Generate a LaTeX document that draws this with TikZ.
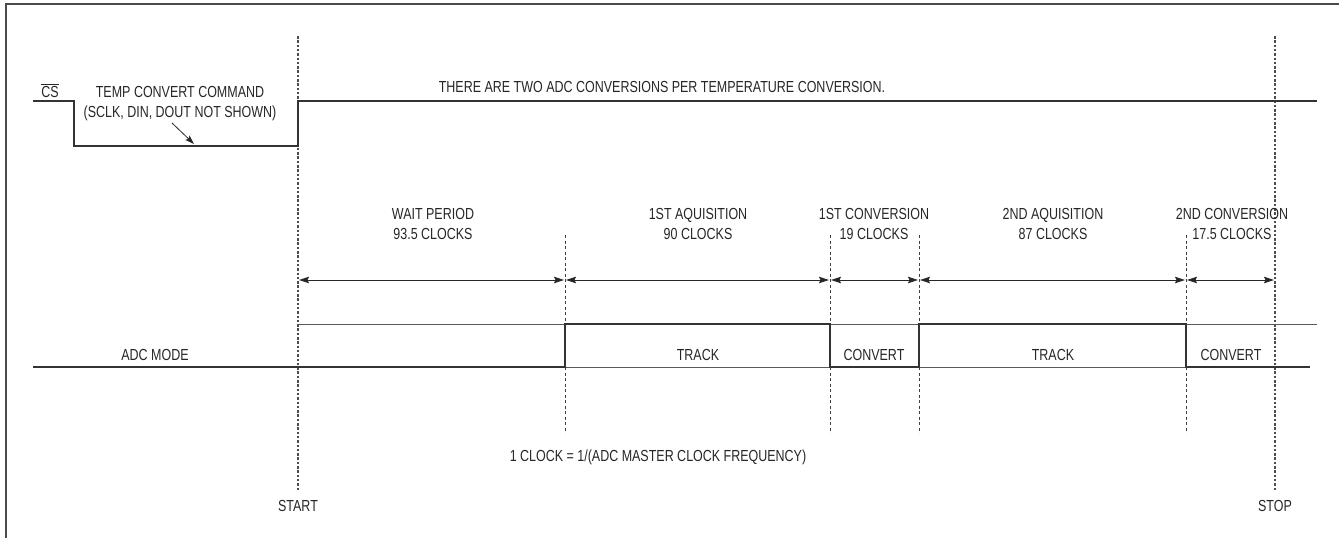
\documentclass[tikz,border=0pt]{standalone}
\usepackage{fontspec}
\setmainfont{Liberation Sans}[FakeStretch=0.78]
\usetikzlibrary{arrows.meta}
\begin{document}
\begin{tikzpicture}[x=1pt,y=-1pt,
  lbl/.style={font=\fontsize{16}{18}\selectfont, inner sep=0pt, anchor=base, text=black!85},
  sig/.style={line width=1.4pt, draw=black!80},
  rail/.style={line width=0.8pt, draw=black!65},
  vmain/.style={line width=1.1pt, draw=black!70, dash pattern=on 2.5pt off 1.8pt},
  vinner/.style={line width=0.7pt, draw=black!75, dash pattern=on 3pt off 2.5pt},
  tip/.style={Stealth[length=10pt,width=6.5pt,inset=1.5pt]},
  dim/.style={line width=0.8pt, draw=black!85, {Stealth[length=10pt,width=6.5pt,inset=1.5pt]}-{Stealth[length=10pt,width=6.5pt,inset=1.5pt]}, shorten <=1pt, shorten >=1pt},
]
\useasboundingbox (0,0) rectangle (1339,538);
% frame
\coordinate (fr1) at (1339,4); \coordinate (fr2) at (6,4); \coordinate (fr3) at (6,538);
\draw[line width=2pt, black!70] (fr1) -- (fr2) -- (fr3);

% main markers
\coordinate (sT) at (298,36); \coordinate (sB) at (298,491);
\coordinate (eT) at (1275,36); \coordinate (eB) at (1275,491);
\draw[vmain] (sT) -- (sB);
\draw[vmain] (eT) -- (eB);
% inner markers
\foreach \n/\x in {a/565,b/830,c/919,d/1186}{
  \coordinate (\n T) at (\x,235); \coordinate (\n B) at (\x,433);
  \draw[vinner] (\n T) -- (\n B);
}

% CS waveform
\coordinate (cs0) at (33,101); \coordinate (cs1) at (74,101);
\coordinate (cs2) at (74,146); \coordinate (cs3) at (298,146);
\coordinate (cs4) at (298,101); \coordinate (cs5) at (1317,101);
\draw[sig, line width=1.2pt] (cs0) -- (cs1) -- (cs2) -- (cs3) -- (cs4) -- (cs5);
\node[lbl] (cs) at (50,97) {$\overline{\hbox{CS}}$};
\node[lbl] (temp1) at (180,97) {TEMP CONVERT COMMAND};
\node[lbl] (temp2) at (180,117) {(SCLK, DIN, DOUT NOT SHOWN)};
\coordinate (ta) at (172,123); \coordinate (tb) at (194,144);
\draw[line width=0.8pt, black!85, -{Stealth[length=9pt,width=6pt,inset=1.5pt]}] (ta) -- (tb);
\node[lbl] (note) at (662,92) {THERE ARE TWO ADC CONVERSIONS PER TEMPERATURE CONVERSION.};

% period labels
\node[lbl] (wait1) at (433,219) {WAIT PERIOD};
\node[lbl] (wait2) at (433,239) {93.5 CLOCKS};
\node[lbl] (acq1a) at (698,219) {1ST AQUISITION};
\node[lbl] (acq1b) at (698,239) {90 CLOCKS};
\node[lbl] (conv1a) at (874,219) {1ST CONVERSION};
\node[lbl] (conv1b) at (874,239) {19 CLOCKS};
\node[lbl] (acq2a) at (1053,219) {2ND AQUISITION};
\node[lbl] (acq2b) at (1053,239) {87 CLOCKS};
\node[lbl] (conv2a) at (1232,219) {2ND CONVERSION};
\node[lbl] (conv2b) at (1232,239) {17.5 CLOCKS};

% dimension arrows
\coordinate (d0) at (298,280); \coordinate (d1) at (565,280);
\coordinate (d2) at (830,280); \coordinate (d3) at (919,280);
\coordinate (d4) at (1186,280); \coordinate (d5) at (1275,280);
\draw[dim] (d0) -- (d1);
\draw[dim] (d1) -- (d2);
\draw[dim] (d2) -- (d3);
\draw[dim] (d3) -- (d4);
\draw[dim] (d4) -- (d5);

% ADC mode rails
\coordinate (hi0) at (298,324); \coordinate (hi1) at (1317,324);
\coordinate (lo0) at (33,367); \coordinate (lo1) at (1310,367);
\draw[rail] (hi0) -- (hi1);
\draw[rail] (lo0) -- (lo1);
% ADC waveform
\coordinate (w0) at (33,367); \coordinate (w1) at (565,367); \coordinate (w2) at (565,324);
\coordinate (w3) at (830,324); \coordinate (w4) at (830,367); \coordinate (w5) at (919,367);
\coordinate (w6) at (919,324); \coordinate (w7) at (1186,324); \coordinate (w8) at (1186,367);
\coordinate (w9) at (1310,367);
\draw[sig] (w0) -- (w1) -- (w2) -- (w3) -- (w4) -- (w5) -- (w6) -- (w7) -- (w8) -- (w9);

\node[lbl] (adcmode) at (155,360) {ADC MODE};
\node[lbl] (track1) at (698,360) {TRACK};
\node[lbl] (convert1) at (874,360) {CONVERT};
\node[lbl] (track2) at (1053,360) {TRACK};
\node[lbl] (convert2) at (1231,360) {CONVERT};

\node[lbl] (clock) at (658,461) {1 CLOCK = 1/(ADC MASTER CLOCK FREQUENCY)};
\node[lbl] (start) at (298,511) {START};
\node[lbl] (stop) at (1275,511) {STOP};
\end{tikzpicture}
\end{document}
